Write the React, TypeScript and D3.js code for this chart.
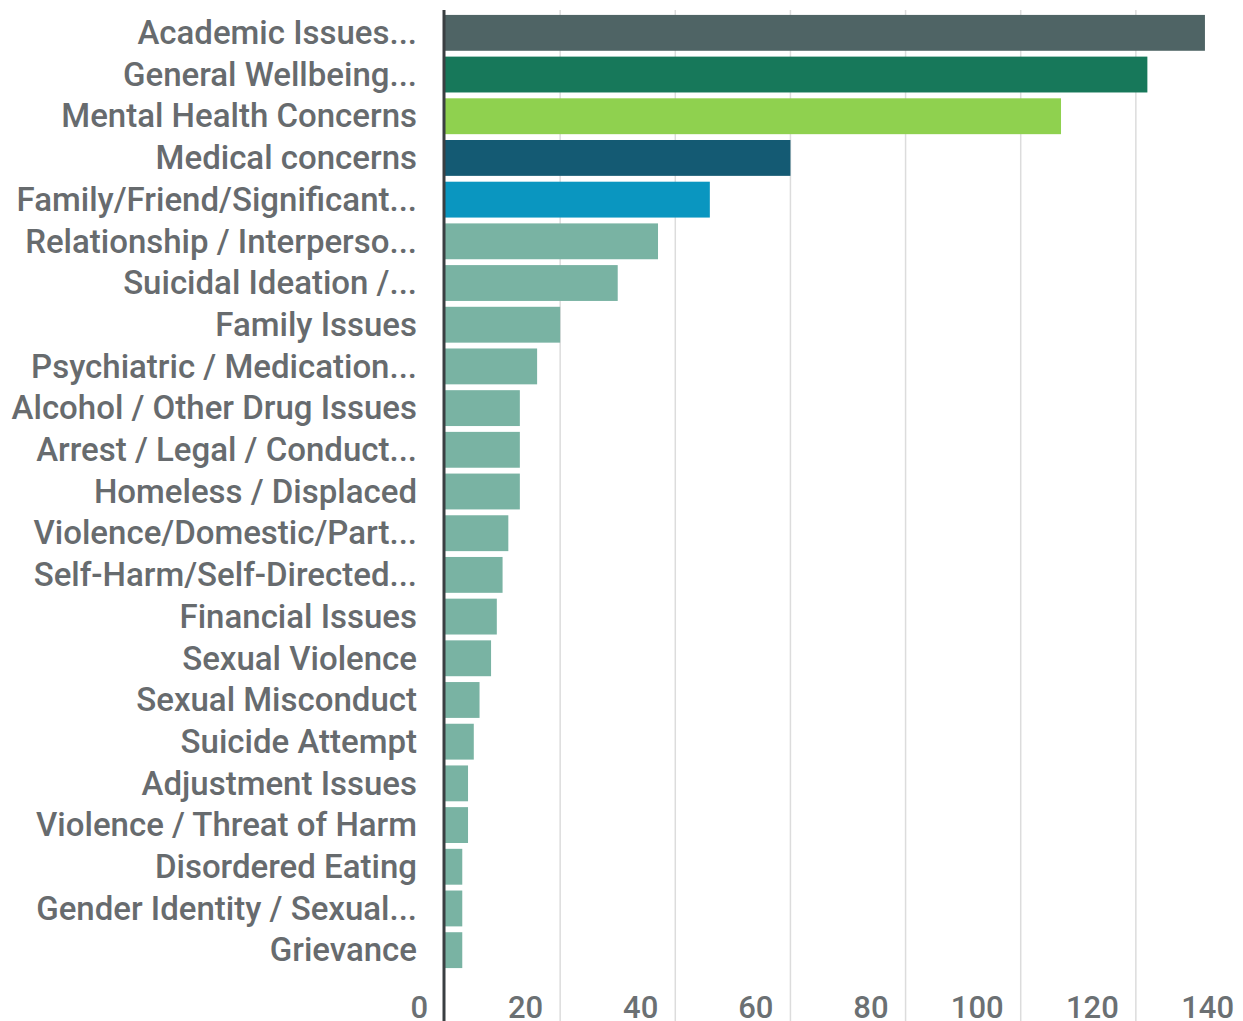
import React, { useEffect, useRef } from 'react';
import * as d3 from 'd3';

const categories = [
    'Academic Issues...',
    'General Wellbeing...',
    'Mental Health Concerns',
    'Medical concerns',
    'Family/Friend/Significant...',
    'Relationship / Interperso...',
    'Suicidal Ideation /...',
    'Family Issues',
    'Psychiatric / Medication...',
    'Alcohol / Other Drug Issues',
    'Arrest / Legal / Conduct...',
    'Homeless / Displaced',
    'Violence/Domestic/Part...',
    'Self-Harm/Self-Directed...',
    'Financial Issues',
    'Sexual Violence',
    'Sexual Misconduct',
    'Suicide Attempt',
    'Adjustment Issues',
    'Violence / Threat of Harm',
    'Disordered Eating',
    'Gender Identity / Sexual...',
    'Grievance',
];

const counts = [132, 122, 107, 60, 46, 37, 30, 20, 16, 13, 13, 13, 11, 10, 9, 8, 6, 5, 4, 4, 3, 3, 3];

const barColors = ['#4f6465', '#17785a', '#8fd14f', '#145a73', '#0a96c0'];
const restColor = '#79b3a3';

const xTicks = [0, 20, 40, 60, 80, 100, 120, 140];

const W = 1243;
const H = 1021;

const drawChart = (svgEl: SVGSVGElement) => {
    const svg = d3.select(svgEl);
    svg.selectAll('*').remove();

    const x = d3.scaleLinear().domain([0, 140]).range([445, 1251]);

    const y = d3.scaleBand<string>()
        .domain(categories)
        .range([12, 971])
        .paddingInner(0.14)
        .paddingOuter(0.07);

    // --- Gridlines ---
    svg.append('g')
        .selectAll('line')
        .data(xTicks.slice(1))
        .enter()
        .append('line')
        .attr('x1', d => x(d))
        .attr('x2', d => x(d))
        .attr('y1', 10)
        .attr('y2', H)
        .attr('stroke', '#dcdcdc')
        .attr('stroke-width', 1.5);

    // --- Bars ---
    svg.append('g')
        .selectAll('rect')
        .data(categories)
        .enter()
        .append('rect')
        .attr('x', x(0))
        .attr('y', d => y(d) as number)
        .attr('width', (_d, i) => x(counts[i]) - x(0))
        .attr('height', y.bandwidth())
        .attr('fill', (_d, i) => barColors[i] ?? restColor);

    // --- Axis line ---
    svg.append('line')
        .attr('x1', x(0) - 1)
        .attr('x2', x(0) - 1)
        .attr('y1', 10)
        .attr('y2', H)
        .attr('stroke', '#3a3f42')
        .attr('stroke-width', 3);

    // --- Category labels ---
    svg.append('g')
        .selectAll('text')
        .data(categories)
        .enter()
        .append('text')
        .attr('x', x(0) - 28)
        .attr('y', d => (y(d) as number) + y.bandwidth() / 2)
        .attr('dy', '0.34em')
        .attr('text-anchor', 'end')
        .style('font-family', 'Roboto, "Noto Sans", sans-serif')
        .style('font-size', '33px')
        .style('font-weight', 500)
        .style('fill', '#676b6e')
        .text(d => d);

    // --- X tick labels (right-aligned just left of each gridline) ---
    svg.append('g')
        .selectAll('text')
        .data(xTicks)
        .enter()
        .append('text')
        .attr('x', d => x(d) - 17)
        .attr('y', 1018)
        .attr('text-anchor', 'end')
        .style('font-family', 'Roboto, "Noto Sans", sans-serif')
        .style('font-size', '31px')
        .style('font-weight', 500)
        .style('fill', '#6b7073')
        .text(d => String(d));
};

const App: React.FC = () => {
    const svgRef = useRef<SVGSVGElement | null>(null);

    useEffect(() => {
        if (svgRef.current) drawChart(svgRef.current);
    }, []);

    return (
        <svg
            ref={svgRef}
            width={W}
            height={H}
            viewBox={`0 0 ${W} ${H}`}
            style={{ position: 'absolute', left: 0, top: 0, background: '#fff', display: 'block' }}
        />
    );
};

export default App;
